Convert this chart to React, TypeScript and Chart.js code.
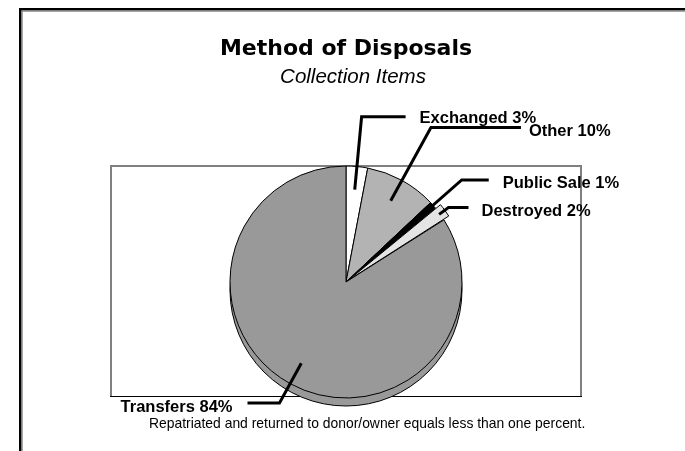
import React, { useEffect, useRef } from "react";
import { Chart, registerables } from "chart.js";

Chart.register(...registerables);

// ---- data ----
const categories = ["Exchanged", "Other", "Public Sale", "Destroyed", "Transfers"];
const percentages = [3, 10, 1, 2, 84];
const sliceColors = ["#ffffff", "#b3b3b3", "#000000", "#e4e4e4", "#999999"];
const sliceOffsets = [0, 0, 0, 13, 0];

const titleText = "Method of Disposals";
const subtitleText = "Collection Items";
const footnoteText = "Repatriated and returned to donor/owner equals less than one percent.";

// ---- leader-line layout (fractions of the pie radius / pixel runs) ----
const leaderStart = [0.8, 0.8, 0.45, 0.88, 0.8];
const leaderElbow = [1.43, 1.52, 1.33, 0.98, 1.19];
const leaderSide = [1, 1, 1, 1, -1];
const leaderRun = [44, 90, 27, 20, 32];
const labelGap = [14, 8, 14, 13, 15];
const labelDrop = [6, 9, 8, 8, 9];

const LABEL_FONT = "bold 16.5px 'Liberation Sans', Arial, sans-serif";

const decorPlugin = {
  id: "decor",
  beforeDraw(chart: any) {
    const ctx = chart.ctx;
    const W = chart.width;
    const H = chart.height;
    ctx.save();
    ctx.fillStyle = "#ffffff";
    ctx.fillRect(0, 0, W, H);
    // outer frame (left + top)
    ctx.fillStyle = "#000000";
    ctx.fillRect(19, 8, W, 2.5);
    ctx.fillRect(19, 8, 2.5, H);
    ctx.fillStyle = "#808080";
    ctx.fillRect(21.5, 10.5, W, 1.2);
    ctx.fillRect(21.5, 10.5, 1.2, H);
    // plot rectangle
    ctx.strokeStyle = "#808080";
    ctx.lineWidth = 2;
    ctx.beginPath();
    ctx.moveTo(111, 397);
    ctx.lineTo(111, 166);
    ctx.lineTo(581, 166);
    ctx.lineTo(581, 397);
    ctx.stroke();
    ctx.strokeStyle = "#000000";
    ctx.lineWidth = 1;
    ctx.beginPath();
    ctx.moveTo(110, 396.5);
    ctx.lineTo(582, 396.5);
    ctx.stroke();
    // titles
    ctx.fillStyle = "#000000";
    ctx.textAlign = "center";
    ctx.textBaseline = "alphabetic";
    ctx.font = "bold 22px 'DejaVu Sans', sans-serif";
    ctx.fillText(titleText, 346, 55);
    ctx.font = "italic 20.5px 'Liberation Sans', Arial, sans-serif";
    ctx.fillText(subtitleText, 353, 83);
    ctx.textAlign = "left";
    ctx.font = "13.9px 'Liberation Sans', Arial, sans-serif";
    ctx.fillText(footnoteText, 149, 428);
    ctx.restore();
  },
  beforeDatasetsDraw(chart: any) {
    const meta = chart.getDatasetMeta(0);
    const arc = meta.data[0];
    if (!arc) return;
    const { x, y, outerRadius } = arc.getProps(["x", "y", "outerRadius"], true);
    const ctx = chart.ctx;
    ctx.save();
    ctx.beginPath();
    ctx.arc(x, y + 8, outerRadius, 0, Math.PI * 2);
    ctx.fillStyle = "#999999";
    ctx.fill();
    ctx.strokeStyle = "#000000";
    ctx.lineWidth = 1;
    ctx.stroke();
    ctx.restore();
  },
  afterDatasetsDraw(chart: any) {
    const meta = chart.getDatasetMeta(0);
    const ctx = chart.ctx;
    ctx.save();
    meta.data.forEach((arc: any, i: number) => {
      const { x, y, startAngle, endAngle, outerRadius } = arc.getProps(
        ["x", "y", "startAngle", "endAngle", "outerRadius"],
        true
      );
      const mid = (startAngle + endAngle) / 2;
      const off = (arc.options && arc.options.offset) || 0;
      const cx = x + Math.cos(mid) * off;
      const cy = y + Math.sin(mid) * off;
      const sx = cx + Math.cos(mid) * outerRadius * leaderStart[i];
      const sy = cy + Math.sin(mid) * outerRadius * leaderStart[i];
      const ex = cx + Math.cos(mid) * outerRadius * leaderElbow[i];
      const ey = cy + Math.sin(mid) * outerRadius * leaderElbow[i];
      const hx = ex + leaderSide[i] * leaderRun[i];
      ctx.strokeStyle = "#000000";
      ctx.lineWidth = 3;
      ctx.lineJoin = "miter";
      ctx.beginPath();
      ctx.moveTo(sx, sy);
      ctx.lineTo(ex, ey);
      ctx.lineTo(hx, ey);
      ctx.stroke();
      ctx.fillStyle = "#000000";
      ctx.font = LABEL_FONT;
      ctx.textBaseline = "alphabetic";
      ctx.textAlign = leaderSide[i] > 0 ? "left" : "right";
      const label = categories[i] + " " + percentages[i] + "%";
      ctx.fillText(label, hx + leaderSide[i] * labelGap[i], ey + labelDrop[i]);
    });
    ctx.restore();
  },
};

export default function App() {
  const canvasRef = useRef<HTMLCanvasElement | null>(null);

  useEffect(() => {
    const canvas = canvasRef.current;
    if (!canvas) return;
    const chart = new Chart(canvas, {
      type: "pie",
      data: {
        labels: categories,
        datasets: [
          {
            data: percentages,
            backgroundColor: sliceColors,
            borderColor: "#000000",
            borderWidth: 1,
            offset: sliceOffsets,
            radius: 116,
          } as any,
        ],
      },
      options: {
        responsive: false,
        animation: false,
        events: [],
        devicePixelRatio: 1,
        layout: { padding: { left: 230, right: 223, top: 166, bottom: 53 } },
        plugins: {
          legend: { display: false },
          title: { display: false },
          tooltip: { enabled: false },
        },
      },
      plugins: [decorPlugin],
    });
    return () => chart.destroy();
  }, []);

  return (
    <div style={{ position: "fixed", left: 0, top: 0, width: 685, height: 451, background: "#fff" }}>
      <canvas ref={canvasRef} width={685} height={451} style={{ display: "block", width: 685, height: 451 }} />
    </div>
  );
}
